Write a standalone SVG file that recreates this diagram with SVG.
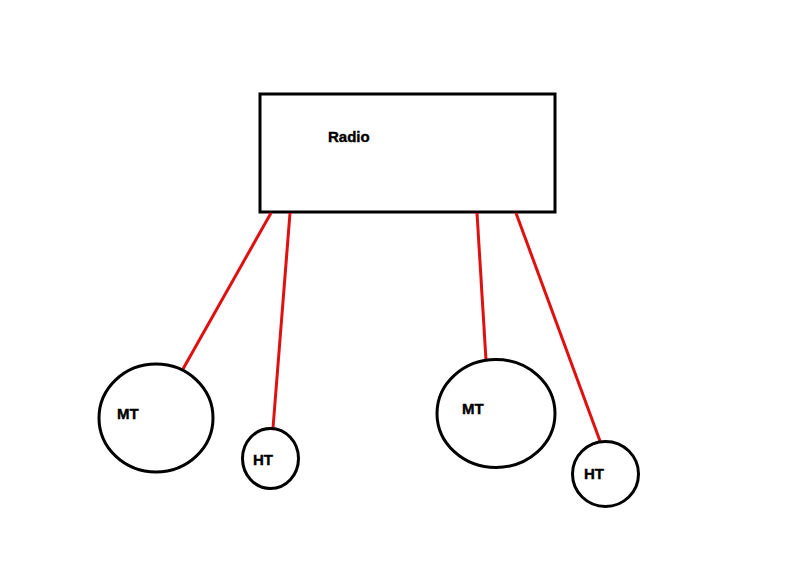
<svg xmlns="http://www.w3.org/2000/svg" width="800" height="573" viewBox="0 0 800 573">
<style>
.n{fill:#fff;stroke:#000;stroke-width:3}
.t{font-family:"Liberation Sans",Arial,sans-serif;font-weight:bold;font-size:15px;fill:#000;stroke:#000;stroke-width:0.4}
.c line{stroke:#e01010;stroke-width:3}
</style>
<rect width="800" height="573" fill="#fff"/>
<g id="radio"><rect class="n" x="260" y="94" width="295" height="118"/><text class="t" x="328" y="142">Radio</text></g>
<g class="c" id="connectors">
<line x1="271" y1="213" x2="183" y2="369"/>
<line x1="290" y1="213" x2="273" y2="428"/>
<line x1="477" y1="213" x2="486" y2="360"/>
<line x1="516" y1="213" x2="600" y2="441"/>
</g>
<g id="mt1"><ellipse class="n" cx="156" cy="418" rx="57" ry="54"/><text class="t" x="117" y="419">MT</text></g>
<g id="ht1"><ellipse class="n" cx="270.5" cy="458.5" rx="28" ry="30"/><text class="t" x="253" y="465">HT</text></g>
<g id="mt2"><ellipse class="n" cx="496" cy="413.5" rx="59" ry="54"/><text class="t" x="462" y="414">MT</text></g>
<g id="ht2"><ellipse class="n" cx="605.5" cy="474" rx="33" ry="32.5"/><text class="t" x="584" y="479">HT</text></g>
</svg>
